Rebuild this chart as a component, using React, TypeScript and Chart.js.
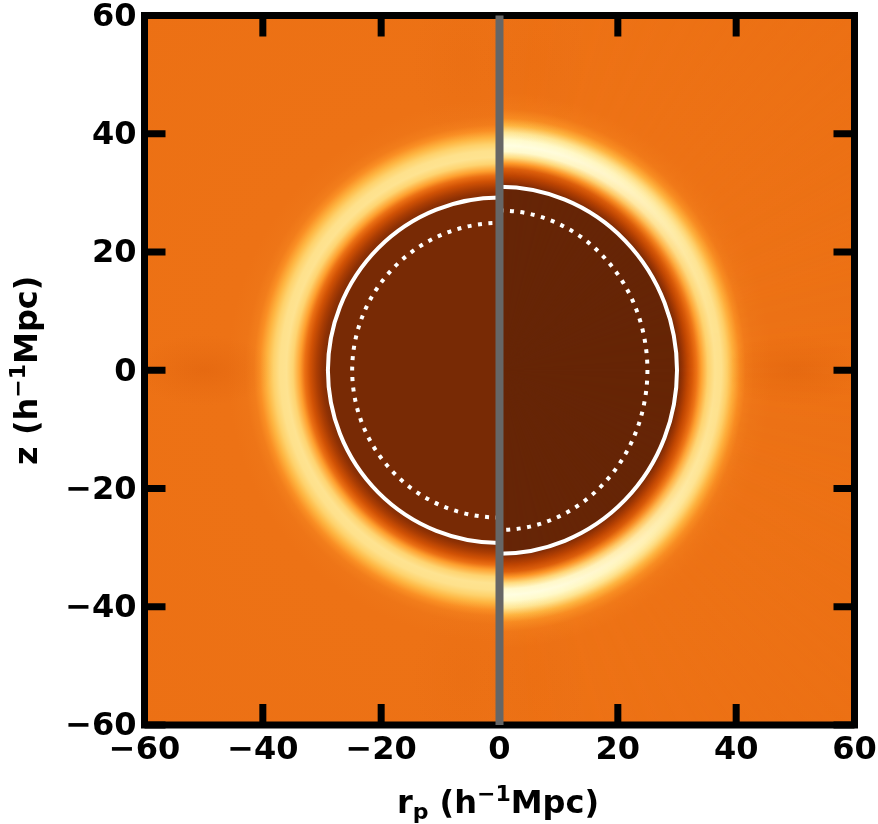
import React, { useEffect, useRef } from "react";
import { Chart, registerables } from "chart.js";

Chart.register(...registerables);

// Axis range and ticks (h^-1 Mpc)
const axisMin = -60;
const axisMax = 60;
const tickStep = 20;

// Colour map (YlOrBr) used for the correlation-function map
const colorMap = ["#ffffe5", "#fff7bc", "#fee391", "#fec44f", "#fe9929", "#ec7014", "#cc4c02", "#993404", "#662506"];

// Radial profile of the left half (real space)
const leftRadii = [0, 28.6, 29.1, 30, 30.9, 32, 32.9, 33.7, 34.9, 36, 37.1, 38.2, 39.3, 40.5, 41.5, 43, 46, 90];
const leftValues = [0.955, 0.955, 0.94, 0.9, 0.83, 0.73, 0.63, 0.48, 0.31, 0.25, 0.26, 0.32, 0.42, 0.53, 0.585, 0.61, 0.62, 0.625];

// Radial profile of the right half along the transverse direction
const rightSideRadii = [0, 29.6, 30.1, 30.9, 31.8, 32.6, 33.3, 34.1, 35.2, 36.4, 37.5, 38.5, 39.5, 40.6, 41.6, 43, 46, 90];
const rightSideValues = [1, 1, 0.97, 0.88, 0.78, 0.7, 0.62, 0.48, 0.32, 0.25, 0.26, 0.33, 0.44, 0.54, 0.59, 0.61, 0.62, 0.625];

// Radial profile of the right half along the line of sight
const rightTopRadii = [0, 30.8, 31, 31.8, 33, 34.1, 35, 36, 37, 38, 39, 40.2, 41.4, 42.6, 44.2, 47, 90];
const rightTopValues = [1, 1, 0.98, 0.88, 0.78, 0.68, 0.5, 0.28, 0.06, 0.01, 0.07, 0.24, 0.42, 0.54, 0.6, 0.62, 0.625];

// Ellipticity of the right-hand map and how fast the line-of-sight profile fades with angle
const rightStretch = 1.055;
const fadeAngles = [0, 15, 30, 45, 60, 75, 90];
const fadeWeights = [1, 0.92, 0.72, 0.45, 0.2, 0.05, 0];

// Faint darker lobes: x, y, half-width, half-height, strength
const lobeX = [-50, 50, -6, 6, -6, 6];
const lobeY = [0, 0, 52, 52, -52, -52];
const lobeW = [12, 12, 9, 9, 9, 9];
const lobeH = [6, 6, 14, 14, 14, 14];
const lobeA = [0.22, 0.22, 0.06, 0.06, 0.06, 0.06];

// Contours: horizontal / vertical semi-axes
const solidLeft = [29, 29.2];
const solidRight = [30, 31];
const dottedLeft = [24.9, 24.9];
const dottedRight = [25, 27];

// Vertical divider
const dividerX = [0, 0];
const dividerY = [-60, 60];

const fontFamily = "'DejaVu Sans'";
const fontSize = 32;

function hexToRgb(h: string) {
  return [parseInt(h.slice(1, 3), 16), parseInt(h.slice(3, 5), 16), parseInt(h.slice(5, 7), 16)];
}

function mapColor(v: number) {
  const t = Math.min(0.9999, Math.max(0, v)) * (colorMap.length - 1);
  const i = Math.floor(t);
  const f = t - i;
  const a = hexToRgb(colorMap[i]);
  const b = hexToRgb(colorMap[i + 1]);
  return `rgb(${a.map((c, k) => Math.round(c + (b[k] - c) * f)).join(",")})`;
}

function radial(ctx: CanvasRenderingContext2D, radii: number[], values: number[], ppu: number, stretchNorm = 1) {
  const rmax = radii[radii.length - 1];
  const g = ctx.createRadialGradient(0, 0, 0, 0, 0, rmax * ppu);
  radii.forEach((r, i) => {
    const o = r / stretchNorm / rmax;
    g.addColorStop(Math.min(1, o), mapColor(values[i]));
  });
  return g;
}

const mapPlugin = {
  id: "radialMap",
  beforeDatasetsDraw(chart: any) {
    const { ctx, chartArea: a, scales } = chart;
    const cx = scales.x.getPixelForValue(0);
    const cy = scales.y.getPixelForValue(0);
    const ppu = scales.x.getPixelForValue(1) - cx;
    const w = a.right - a.left;
    const h = a.bottom - a.top;

    ctx.save();
    ctx.beginPath();
    ctx.rect(a.left, a.top, w, h);
    ctx.clip();

    // left half
    ctx.save();
    ctx.beginPath();
    ctx.rect(a.left, a.top, cx - a.left, h);
    ctx.clip();
    ctx.translate(cx, cy);
    ctx.fillStyle = radial(ctx, leftRadii, leftValues, ppu);
    ctx.fillRect(-1000, -1000, 2000, 2000);
    ctx.restore();

    // right half: transverse profile
    ctx.save();
    ctx.beginPath();
    ctx.rect(cx, a.top, a.right - cx, h);
    ctx.clip();
    ctx.save();
    ctx.translate(cx, cy);
    ctx.scale(1, rightStretch);
    ctx.fillStyle = radial(ctx, rightSideRadii, rightSideValues, ppu);
    ctx.fillRect(-1000, -1000, 2000, 2000);
    ctx.restore();

    // right half: line-of-sight profile, faded with angle
    const off = document.createElement("canvas");
    off.width = chart.width;
    off.height = chart.height;
    const o = off.getContext("2d") as CanvasRenderingContext2D;
    o.save();
    o.translate(cx, cy);
    o.scale(1, rightStretch);
    o.fillStyle = radial(o, rightTopRadii, rightTopValues, ppu, rightStretch);
    o.fillRect(-1000, -1000, 2000, 2000);
    o.restore();
    o.globalCompositeOperation = "destination-in";
    const cg = (o as any).createConicGradient(-Math.PI / 2, cx, cy);
    fadeAngles.forEach((d, i) => cg.addColorStop(d / 360, `rgba(0,0,0,${fadeWeights[i]})`));
    for (let i = fadeAngles.length - 1; i >= 0; i--) {
      cg.addColorStop((180 - fadeAngles[i]) / 360, `rgba(0,0,0,${fadeWeights[i]})`);
    }
    cg.addColorStop(181 / 360, "rgba(0,0,0,0)");
    cg.addColorStop(1, "rgba(0,0,0,0)");
    o.fillStyle = cg;
    o.fillRect(0, 0, off.width, off.height);
    ctx.drawImage(off, 0, 0);
    ctx.restore();

    // faint lobes
    lobeX.forEach((lx, i) => {
      ctx.save();
      ctx.translate(scales.x.getPixelForValue(lx), scales.y.getPixelForValue(lobeY[i]));
      ctx.scale(lobeW[i] * ppu, lobeH[i] * ppu);
      const g = ctx.createRadialGradient(0, 0, 0, 0, 0, 1);
      g.addColorStop(0, `rgba(204,76,2,${lobeA[i]})`);
      g.addColorStop(0.5, `rgba(204,76,2,${lobeA[i] * 0.45})`);
      g.addColorStop(1, "rgba(204,76,2,0)");
      ctx.fillStyle = g;
      ctx.fillRect(-1, -1, 2, 2);
      ctx.restore();
    });

    // contours
    const arcs: [number[], number, number, number[]][] = [
      [solidLeft, Math.PI / 2, (3 * Math.PI) / 2, []],
      [solidRight, -Math.PI / 2, Math.PI / 2, []],
      [dottedLeft, Math.PI / 2, (3 * Math.PI) / 2, [4, 6.5]],
      [dottedRight, -Math.PI / 2, Math.PI / 2, [4, 6.5]],
    ];
    ctx.strokeStyle = "#ffffff";
    ctx.lineWidth = 4;
    arcs.forEach(([r, s, e, dash]) => {
      ctx.setLineDash(dash);
      ctx.beginPath();
      ctx.ellipse(cx, cy, r[0] * ppu, r[1] * ppu, 0, s, e);
      ctx.stroke();
    });
    ctx.setLineDash([]);
    ctx.restore();

    // frame and inward ticks on all four sides
    ctx.save();
    ctx.strokeStyle = "#000000";
    ctx.lineWidth = 7;
    ctx.strokeRect(a.left, a.top, w, h);
    const tl = 21;
    ctx.beginPath();
    scales.x.ticks.forEach((t: any) => {
      const p = scales.x.getPixelForValue(t.value);
      ctx.moveTo(p, a.top);
      ctx.lineTo(p, a.top + tl);
      ctx.moveTo(p, a.bottom);
      ctx.lineTo(p, a.bottom - tl);
    });
    scales.y.ticks.forEach((t: any) => {
      const p = scales.y.getPixelForValue(t.value);
      ctx.moveTo(a.left, p);
      ctx.lineTo(a.left + tl, p);
      ctx.moveTo(a.right, p);
      ctx.lineTo(a.right - tl, p);
    });
    ctx.stroke();
    ctx.restore();
  },
  afterDraw(chart: any) {
    const { ctx, chartArea: a } = chart;
    const big = `bold ${fontSize}px ${fontFamily}`;
    const small = `bold ${Math.round(fontSize * 0.7)}px ${fontFamily}`;
    const drawTitle = (parts: [string, string, number][]) => {
      ctx.textAlign = "left";
      ctx.textBaseline = "alphabetic";
      ctx.fillStyle = "#000000";
      let total = 0;
      parts.forEach(([s, f]) => {
        ctx.font = f;
        total += ctx.measureText(s).width;
      });
      let x = -total / 2;
      parts.forEach(([s, f, dy]) => {
        ctx.font = f;
        ctx.fillText(s, x, dy);
        x += ctx.measureText(s).width;
      });
    };
    ctx.save();
    ctx.translate((a.left + a.right) / 2 - 1.5, 813);
    drawTitle([
      ["r", big, 0],
      ["p", small, 6],
      [" (h", big, 0],
      ["−1", small, -12],
      ["Mpc)", big, 0],
    ]);
    ctx.restore();
    ctx.save();
    ctx.translate(37, (a.top + a.bottom) / 2);
    ctx.rotate(-Math.PI / 2);
    drawTitle([
      ["z (h", big, 0],
      ["−1", small, -12],
      ["Mpc)", big, 0],
    ]);
    ctx.restore();
  },
};

export default function App() {
  const ref = useRef<HTMLCanvasElement | null>(null);
  useEffect(() => {
    if (!ref.current) return;
    const tickFormat = (v: any) => String(v).replace("-", "−");
    const commonTicks = {
      stepSize: tickStep,
      autoSkip: false,
      maxRotation: 0,
      minRotation: 0,
      color: "#000000",
      font: { family: fontFamily, size: fontSize, weight: "bold" as const },
      callback: tickFormat,
    };
    const chart = new Chart(ref.current, {
      type: "scatter",
      data: {
        datasets: [
          {
            data: dividerX.map((x, i) => ({ x, y: dividerY[i] })),
            showLine: true,
            borderColor: "#666666",
            borderWidth: 8,
            pointRadius: 0,
            clip: false,
          } as any,
        ],
      },
      options: {
        responsive: false,
        animation: false,
        layout: { padding: { top: 15.5, right: 23.5, left: 0, bottom: 0 } },
        plugins: { legend: { display: false }, tooltip: { enabled: false }, title: { display: false } },
        scales: {
          x: {
            type: "linear",
            min: axisMin,
            max: axisMax,
            grid: { display: false, drawTicks: false },
            border: { display: false },
            ticks: { ...commonTicks, padding: 6 },
            afterFit(s: any) {
              s.height = 99;
              s.paddingLeft = 0;
              s.paddingRight = 0;
            },
          },
          y: {
            type: "linear",
            min: axisMin,
            max: axisMax,
            grid: { display: false, drawTicks: false },
            border: { display: false },
            ticks: { ...commonTicks, padding: 8, labelOffset: 2 },
            afterFit(s: any) {
              s.width = 144.5;
              s.paddingTop = 0;
              s.paddingBottom = 0;
            },
          },
        },
      },
      plugins: [mapPlugin],
    } as any);
    return () => chart.destroy();
  }, []);
  return (
    <div style={{ position: "fixed", left: 0, top: 0, width: 878, height: 824 }}>
      <canvas ref={ref} width={878} height={824} style={{ display: "block" }} />
    </div>
  );
}
